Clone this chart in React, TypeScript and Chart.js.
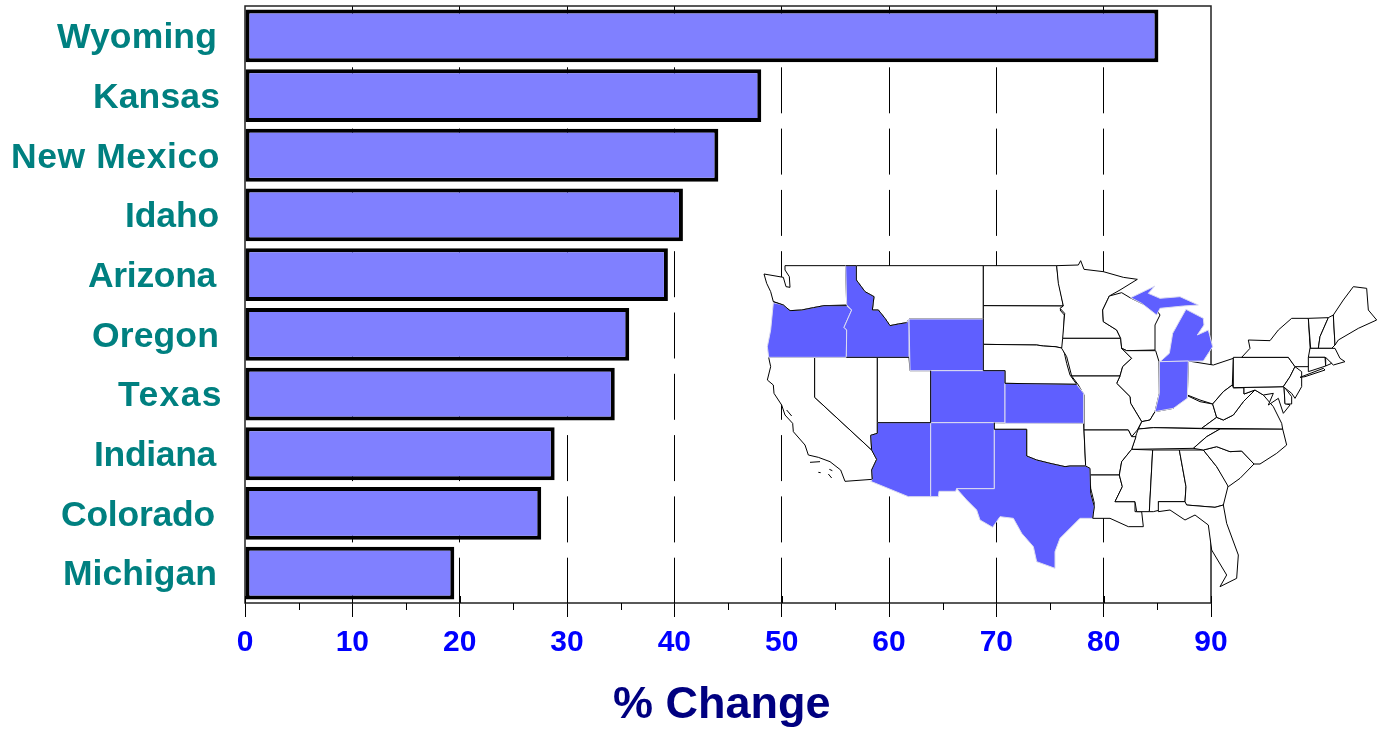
import React, { useEffect, useRef } from "react";
import { Chart, registerables } from "chart.js";

Chart.register(...registerables);

const states = ["Wyoming", "Kansas", "New Mexico", "Idaho", "Arizona", "Oregon", "Texas", "Indiana", "Colorado", "Michigan"];
const changes = [85.1, 48.1, 44.1, 40.8, 39.4, 35.8, 34.45, 28.85, 27.6, 19.5];
const labelNudge = [0, 3, 3, 2, -1, 2, 6, -1, -2, 0];
const labelSpread = [160, 127, 209, 94, 128, 127, 105, 122, 154, 154];
const minorTicks = [5, 15, 25, 35, 45, 55, 65, 75, 85];
const majorTicks = [0, 10, 20, 30, 40, 50, 60, 70, 80, 90];

type Poly = number[];
// Map outline, decoration above the grid. West is in one sketch frame, east in another.
const westPlain: Poly[] = [
  [105,47,287,47,290,165,222,167,190,173,155,180,120,182,100,165,70,155,62,125,50,100,42,72,100,82,108,110,120,112,118,80,105,60],
  [56,322,194,322,194,442,365,600,380,628,365,660,367,688,285,694,272,660,240,635,205,622,175,615,165,585,130,545,128,520,105,495,95,465,72,430,70,405,52,390,62,350],
  [194,322,382,322,382,550,362,556,365,600,194,442],
  [382,322,477,322,480,362,542,362,542,518,382,518],
  [319,47,700,47,700,207,477,207,470,218,445,222,420,227,405,205,385,180,367,180,372,140,345,125,319,90],
  [700,47,920,47,925,90,940,168,700,167],
  [700,167,940,168,930,180,943,195,940,265,940,295,915,290,880,288,860,285,700,283],
  [700,283,860,285,880,288,915,290,940,295,950,340,960,375,980,403,765,400,765,362,700,362],
  [733,518,1001,520,1002,540,1007,648,960,648,945,650,900,640,860,630,830,618,830,538,733,538],
];
const westBlue: Poly[] = [
  [70,158,100,165,120,182,155,180,190,173,222,167,290,167,305,180,282,232,290,240,289,322,56,322,52,290,62,240],
  [287,47,319,47,319,90,345,125,372,140,367,180,385,180,405,205,420,227,445,222,470,218,477,207,477,322,289,322,290,240,282,232,305,180,290,165],
  [477,207,700,207,700,362,480,362],
  [542,362,765,362,765,518,542,518],
  [765,400,980,403,1001,430,1001,520,765,520],
  [382,518,542,518,542,740,475,740,362,694,367,688,365,660,380,628,365,600,362,556,382,550],
  [542,518,733,518,733,716,620,716,617,724,567,724,565,740,542,740],
  [733,538,830,538,830,618,860,630,900,640,945,650,960,648,1007,648,1020,655,1022,730,1033,770,1028,805,990,805,930,865,915,905,915,955,860,935,850,890,815,850,790,805,750,800,728,832,690,810,680,780,650,750,620,716,733,716],
];
const westLines: Poly[] = [
  [70,155,100,165,120,182,155,180,190,173,222,167,290,167],
  [287,47,319,47,319,90,345,125,372,140,367,180,385,180,405,205,420,227,445,222,470,218],
  [289,322,477,322],
  [700,207,700,362,765,362,765,400,980,403],
  [542,362,542,518,382,518,382,550,362,556,365,600,380,628,365,660,367,688],
  [733,518,733,538,830,538,830,618,860,630,900,640,945,650,960,648,1007,648,1020,655,1022,730,1033,770,1028,805],
  [180,637,210,635],
  [205,667,212,668],
  [238,658,247,662],
  [235,672,245,684],
  [110,480,125,498],
];
const eastPlain: Poly[] = [
  [-10,47,55,45,62,32,72,58,130,65,190,82,232,88,180,120,148,138,128,180,130,215,170,240,182,265,8,265,14,190,0,175,10,168,-5,100],
  [8,265,182,265,185,295,215,325,188,350,180,378,35,378,20,320,5,295],
  [148,138,185,128,210,143,245,160,290,180,300,195,285,225,285,300,200,302,185,295,182,265,170,240,130,215,128,180],
  [200,302,287,302,297,335,298,430,285,485,270,510,245,515,212,460,210,440,170,400,180,378,188,350,215,325,185,295],
  [385,333,460,345,520,325,517,405,490,425,458,462,420,450,382,435],
  [285,485,340,475,382,437,420,455,458,462,470,502,425,535,280,533,235,537,245,515,270,510],
  [235,537,280,533,480,537,440,560,400,595,215,598,230,550],
  [35,378,180,378,170,400,210,440,212,460,245,515,232,540,215,560,205,540,72,540,72,435,55,405],
  [72,540,205,540,215,560,228,560,215,598,185,635,178,675,90,675,77,650],
  [90,675,178,675,187,710,165,755,225,755,225,785,245,785,250,830,205,830,150,805,98,805,103,760,92,715],
  [215,598,278,600,268,785,230,785,225,755,165,755,187,710,178,675,185,635],
  [278,600,358,600,378,710,375,755,295,755,300,780,280,785,268,785],
  [358,600,430,600,470,650,505,705,490,765,465,772,378,765,375,755,378,710],
  [430,600,470,590,510,605,545,603,582,642,540,685,505,710,470,650],
  [400,595,440,560,480,537,668,537,680,585,650,610,600,642,582,642,545,603,510,605,470,590,430,600],
  [425,535,470,502,490,510,520,495,550,455,585,420,610,435,640,470,665,520,668,537],
  [458,462,490,425,517,405,520,413,552,413,552,432,585,420,550,455,520,495,490,510,470,502],
  [520,413,672,410,675,460,690,465,670,490,655,445,625,465,640,430,610,435,585,420,552,432,552,413],
  [672,410,695,440,695,462,675,462],
  [520,322,685,322,705,350,690,380,670,410,520,413],
  [705,350,725,365,725,410,705,445,695,430,670,410,690,380],
  [545,322,570,295,565,270,630,272,655,240,695,205,745,205,752,320,745,350,705,350,685,322],
  [720,382,790,355,795,360,735,380],
  [745,205,805,203,780,260,775,295,752,295],
  [805,203,820,195,825,285,815,295,775,295,780,260],
  [820,195,850,150,880,110,920,115,925,180,950,210,895,235,835,270,825,285],
  [750,295,825,295,840,325,855,335,820,345,795,322,745,322],
  [745,322,795,322,797,348,745,365],
  [797,322,815,340,797,348],
  [295,755,375,755,380,765,465,772,490,765,500,820,535,915,530,985,480,1010,500,975,455,900,445,825,405,795,375,810,330,780,295,785],
];
const eastBlue: Poly[] = [
  [212,143,285,108,265,130,300,145,360,140,415,165,370,168,300,175,290,195,245,160],
  [378,178,430,205,432,225,412,255,445,240,458,290,430,333,300,335,328,310,338,250,360,210],
  [298,335,385,333,382,445,340,475,285,485,298,430],
];

function tracePoly(ctx: CanvasRenderingContext2D, p: Poly, ox: number, oy: number, close: boolean) {
  ctx.beginPath();
  for (let i = 0; i < p.length; i += 2) {
    const x = ox + p[i] / 3;
    const y = oy + p[i + 1] / 3;
    if (i === 0) ctx.moveTo(x, y);
    else ctx.lineTo(x, y);
  }
  if (close) ctx.closePath();
}

const decor = {
  id: "decor",
  beforeDatasetsDraw(chart: any) {
    const { ctx, chartArea: a, scales } = chart;
    ctx.save();
    ctx.strokeStyle = "#222";
    ctx.lineWidth = 1.5;
    ctx.strokeRect(a.left, a.top, a.right - a.left, a.bottom - a.top);
    ctx.strokeStyle = "#000";
    ctx.lineWidth = 1;
    for (const v of minorTicks) {
      const x = Math.round(scales.x.getPixelForValue(v)) + 0.5;
      ctx.beginPath();
      ctx.moveTo(x, a.bottom);
      ctx.lineTo(x, a.bottom + 7);
      ctx.stroke();
    }
    for (const v of majorTicks) {
      const x = Math.round(scales.x.getPixelForValue(v)) + 0.5;
      ctx.beginPath();
      ctx.moveTo(x, a.bottom - 7);
      ctx.lineTo(x, a.bottom);
      ctx.stroke();
    }
    ctx.lineJoin = "round";
    const sets: [Poly[], number, number][] = [[westPlain, 750, 250], [eastPlain, 1060, 250]];
    ctx.lineWidth = 1;
    ctx.fillStyle = "#fff";
    ctx.strokeStyle = "#000";
    for (const [polys, ox, oy] of sets) {
      for (const p of polys) {
        tracePoly(ctx, p, ox, oy, true);
        ctx.fill();
        ctx.stroke();
      }
    }
    const blue: [Poly[], number, number][] = [[westBlue, 750, 250], [eastBlue, 1060, 250]];
    ctx.fillStyle = "#5f5fff";
    ctx.strokeStyle = "#dcdcf0";
    for (const [polys, ox, oy] of blue) {
      for (const p of polys) {
        tracePoly(ctx, p, ox, oy, true);
        ctx.fill();
        ctx.stroke();
      }
    }
    ctx.strokeStyle = "#000";
    for (const p of westLines) {
      tracePoly(ctx, p, 750, 250, false);
      ctx.stroke();
    }
    ctx.restore();
  },
  afterDraw(chart: any) {
    const { ctx, scales } = chart;
    ctx.save();
    ctx.font = "bold 35.5px 'Liberation Sans'";
    ctx.fillStyle = "#008080";
    ctx.textAlign = "left";
    ctx.textBaseline = "middle";
    states.forEach((s, i) => {
      (ctx as any).letterSpacing = "0px";
      const w = ctx.measureText(s).width;
      (ctx as any).letterSpacing = `${(labelSpread[i] - w) / s.length}px`;
      ctx.fillText(s, 217 + labelNudge[i] - labelSpread[i], scales.y.getPixelForValue(i) + 2.5);
    });
    ctx.restore();
  },
};

export default function App() {
  const ref = useRef<HTMLCanvasElement>(null);
  useEffect(() => {
    const chart = new Chart(ref.current!, {
      type: "bar",
      data: {
        labels: states,
        datasets: [
          {
            data: changes,
            backgroundColor: "#8080ff",
            borderColor: "#000",
            borderWidth: 4,
            borderSkipped: false,
            barPercentage: 0.885,
            categoryPercentage: 1,
          },
        ],
      },
      options: {
        indexAxis: "y",
        responsive: false,
        animation: false,
        layout: { padding: { top: 6, right: 176, left: 0, bottom: 0 } },
        plugins: { legend: { display: false }, tooltip: { enabled: false } },
        scales: {
          x: {
            type: "linear",
            min: 0,
            max: 90,
            afterFit: (s: any) => { s.height = 127; },
            ticks: {
              stepSize: 10,
              color: "#0000ff",
              font: { family: "'Liberation Sans'", weight: "bold", size: 30 },
              padding: 8,
              maxRotation: 0,
              autoSkip: false,
            },
            grid: {
              color: (c: any) => (c.tick && (c.tick.value === 0 || c.tick.value === 90) ? "rgba(0,0,0,0)" : "#000"),
              tickColor: "#000",
              tickLength: 14,
              lineWidth: 1,
            },
            border: { display: false, dash: [46, 15.3] },
            title: {
              display: true,
              text: "% Change ",
              color: "#000080",
              font: { family: "'Liberation Sans'", weight: "bold", size: 45, lineHeight: 1.1 },
              padding: 0,
            },
          },
          y: {
            type: "category",
            afterFit: (s: any) => { s.width = 245; },
            ticks: { display: false },
            grid: { display: false },
            border: { display: false },
          },
        },
      },
      plugins: [decor],
    } as any);
    return () => chart.destroy();
  }, []);
  return (
    <div style={{ position: "fixed", left: 0, top: 0, width: 1387, height: 730, background: "#fff" }}>
      <canvas ref={ref} width={1387} height={730} style={{ display: "block" }} />
    </div>
  );
}
